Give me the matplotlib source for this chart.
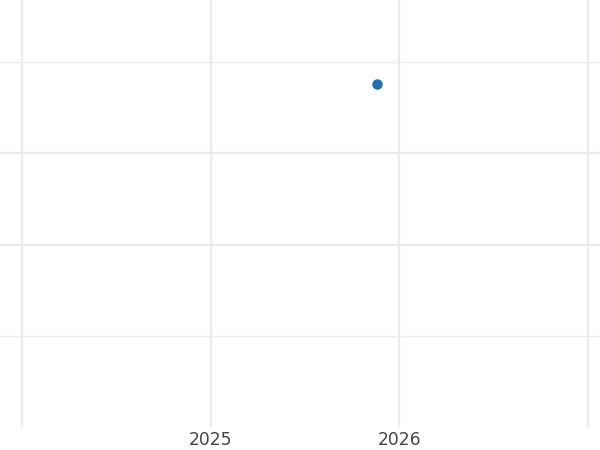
import matplotlib
matplotlib.use("Agg")
import matplotlib.pyplot as plt

# single observation
x_vals = [2025.88]
y_vals = [3.755]

x_ticks = [2024, 2025, 2026, 2027]
x_labels = ["", "2025", "2026", ""]
y_ticks = [1, 2, 3, 4]

fig = plt.figure(figsize=(6, 4.5), dpi=100)
ax = fig.add_axes([0, 23 / 450, 1, 427 / 450])

ax.plot(x_vals, y_vals, "o", color="#1f6fb4", markersize=6.5, zorder=3)

ax.set_xlim(2023.883, 2027.064)
ax.set_ylim(0, 4.68)
ax.set_xticks(x_ticks)
ax.set_xticklabels(x_labels)
ax.set_yticks(y_ticks)
ax.set_yticklabels([])

ax.grid(True, axis="x", color="#ebebeb", linewidth=1.6)
ax.grid(True, axis="y", color="#ebebeb", linewidth=1.2)
for ln, w in zip(ax.get_ygridlines(), [0.9, 1.6, 1.6, 0.9]):
    ln.set_linewidth(w)

ax.tick_params(length=0, labelsize=12.3, labelcolor="#444444", pad=3)
for s in ax.spines.values():
    s.set_visible(False)

fig.savefig("out.png", dpi=100)
